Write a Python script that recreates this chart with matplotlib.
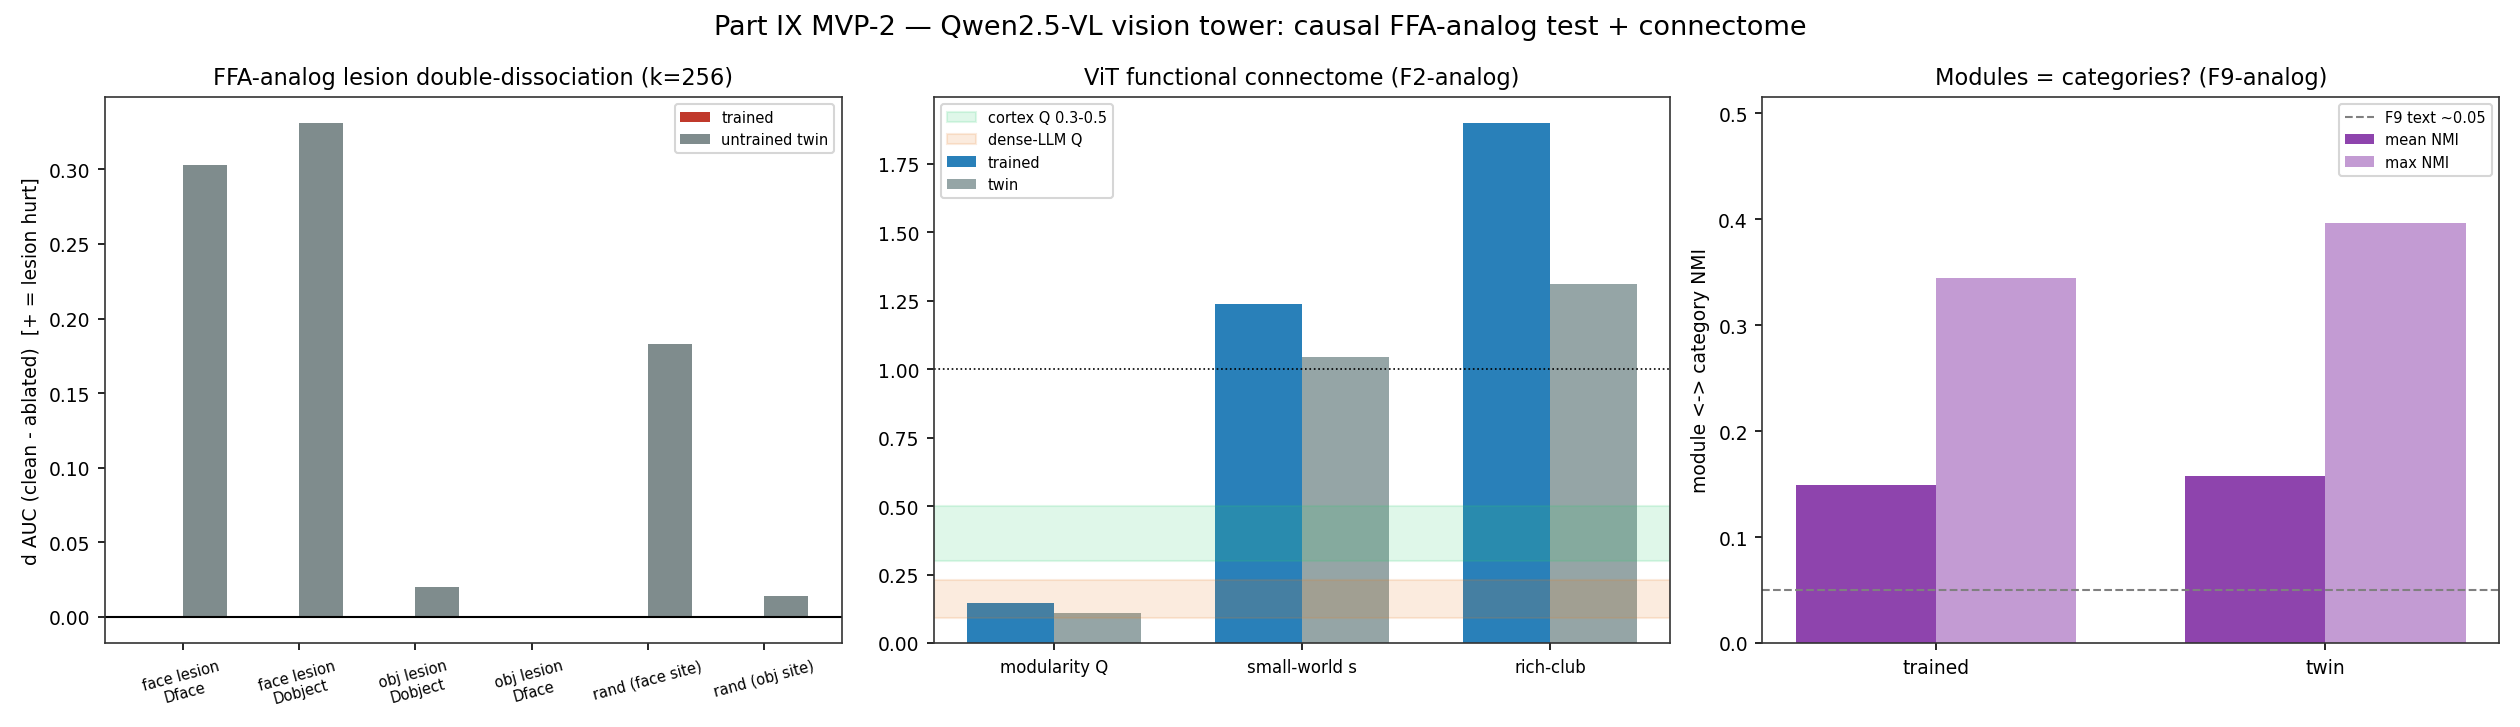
import matplotlib
matplotlib.use("Agg")
import matplotlib.pyplot as plt
import numpy as np

# ---- data ----
lesion_labels = ["face lesion\nDface", "face lesion\nDobject", "obj lesion\nDobject",
                 "obj lesion\nDface", "rand (face site)", "rand (obj site)"]
lesion_trained = [0.0, 0.0, -0.0006, 0.0, 0.0, 0.0]
lesion_twin = [0.303, 0.331, 0.020, 0.0003, 0.183, 0.0137]

conn_labels = ["modularity Q", "small-world s", "rich-club"]
conn_trained = [0.147, 1.237, 1.899]
conn_twin = [0.108, 1.043, 1.310]

nmi_labels = ["trained", "twin"]
nmi_mean = [0.1495, 0.158]
nmi_max = [0.345, 0.3965]

plt.rcParams['axes.edgecolor'] = '#333333'
plt.rcParams['font.size'] = 9

fig, axes = plt.subplots(1, 3, figsize=(16.8, 4.8533), dpi=150)
fig.subplots_adjust(left=0.0417, right=0.9917, bottom=0.1154, top=0.8654, wspace=0.125)
fig.suptitle("Part IX MVP-2 \u2014 Qwen2.5-VL vision tower: causal FFA-analog test + connectome", fontsize=13)

# ---- panel 1 ----
ax = axes[0]
x = np.arange(len(lesion_labels))
w = 0.38
ax.bar(x - w / 2, lesion_trained, w, color="#c0392b", label="trained")
ax.bar(x + w / 2, lesion_twin, w, color="#7f8c8d", label="untrained twin")
ax.axhline(0, color="black", lw=1)
ax.set_xticks(x)
ax.set_xticklabels(lesion_labels, rotation=15, fontsize=7)
ax.set_ylabel("d AUC (clean - ablated)  [+ = lesion hurt]")
ax.set_title("FFA-analog lesion double-dissociation (k=256)")
ax.set_ylim(-0.0175, 0.3485)
ax.legend(fontsize=7, loc="upper right")

# ---- panel 2 ----
ax = axes[1]
x = np.arange(len(conn_labels))
w = 0.35
ax.bar(x - w / 2, conn_trained, w, color="#2980b9", label="trained")
ax.bar(x + w / 2, conn_twin, w, color="#95a5a6", label="twin")
ax.axhspan(0.3, 0.5, color="#2ecc71", alpha=0.15, label="cortex Q 0.3-0.5")
ax.axhspan(0.09, 0.23, color="#e67e22", alpha=0.15, label="dense-LLM Q")
ax.axhline(1.0, color="black", lw=0.8, ls=":")
ax.set_xticks(x)
ax.set_xticklabels(conn_labels, fontsize=8)
ax.set_title("ViT functional connectome (F2-analog)")
ax.legend(fontsize=7, loc="upper left")

# ---- panel 3 ----
ax = axes[2]
x = np.arange(len(nmi_labels))
w = 0.36
ax.bar(x - w / 2, nmi_mean, w, color="#8e44ad", label="mean NMI")
ax.bar(x + w / 2, nmi_max, w, color="#c39bd3", label="max NMI")
ax.axhline(0.05, color="gray", lw=1, ls="--", label="F9 text ~0.05")
ax.set_xticks(x)
ax.set_xticklabels(nmi_labels)
ax.set_ylabel("module <-> category NMI")
ax.set_title("Modules = categories? (F9-analog)")
ax.set_ylim(0, max(nmi_max) * 1.3)
ax.legend(fontsize=7, loc="upper right")

fig.savefig("out.png", dpi=150)
